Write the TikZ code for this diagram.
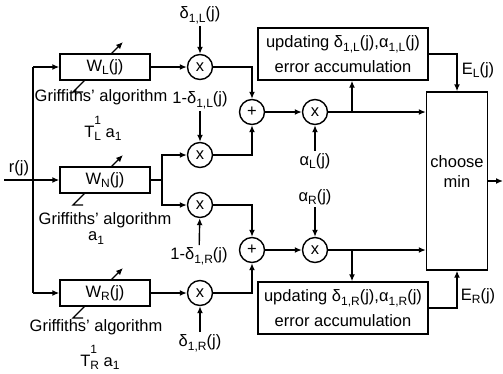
\documentclass[tikz,border=0pt]{standalone}
\usepackage{fontspec}
\setmainfont{Liberation Sans}
\usetikzlibrary{arrows.meta}
\newcommand{\lo}[1]{\raisebox{-0.45ex}{\fontsize{12}{12}\selectfont #1}}
\newcommand{\hilo}[2]{\makebox[0pt][l]{\raisebox{1.4ex}{\fontsize{12}{12}\selectfont #1}}\lo{#2}}
\tikzset{
  sig/.style={line width=1.4pt},
  arr/.style={sig,-{Latex[length=7pt,width=6pt]}},
  wbox/.style={draw,line width=1.4pt,minimum width=90pt,minimum height=26pt,inner sep=0pt},
  mult/.style={draw,circle,line width=1.4pt,minimum size=25pt,inner sep=0pt},
  upbox/.style={draw,line width=1.4pt,minimum width=170pt,minimum height=52pt,align=center,inner sep=0pt},
  lbl/.style={inner sep=2pt}
}

\begin{document}
\begin{tikzpicture}[x=1pt,y=-1pt,font=\fontsize{16.5}{20}\selectfont]
  \useasboundingbox (0,0) rectangle (503,373);
  % input and branching
  \coordinate (in) at (4,180);
  \node[lbl] (rj) at (19,168) {r(j)};
  \coordinate (splitup) at (33,67);
  \coordinate (split) at (33,180);
  \coordinate (splitdn) at (33,293);
  \coordinate (fork) at (162,180);
  % adaptive filters
  \node[wbox] (wl) at (105,67) {W\lo{L}(j)};
  \node[wbox] (wn) at (105,180) {W\lo{N}(j)};
  \node[wbox] (wr) at (105,293) {W\lo{R}(j)};
  \foreach \w in {wl,wn,wr}{
    \draw[sig] ([shift={(-22,25)}]\w.center) -- ++(-10,0) -- ([shift={(-20,13)}]\w.center);
    \draw[arr] ([shift={(6,-13)}]\w.center) -- ([shift={(18,-25)}]\w.center);
  }
  \node[lbl] (gl) at (101,97) {Griffiths' algorithm};
  \node[anchor=base] (tl) at (103,137) {T\hilo{1}{L} a\lo{1}};
  \node[lbl] (gn) at (105,220) {Griffiths' algorithm};
  \node[lbl] (an) at (96,238) {a\lo{1}};
  \node[lbl] (gr) at (96,327) {Griffiths' algorithm};
  \node[anchor=base] (tr) at (100,366) {T\hilo{1}{R} a\lo{1}};
  % weighting and sums
  \node[mult] (ml) at (200,67) {x};
  \node[mult] (mlc) at (200,155) {x};
  \node[mult] (mrc) at (200,205) {x};
  \node[mult] (mr) at (200,293) {x};
  \node[mult] (sl) at (252,112) {+};
  \node[mult] (sr) at (252,250) {+};
  \node[mult] (al) at (315,112) {x};
  \node[mult] (ar) at (315,250) {x};
  \node[lbl] (dl) at (200,15) {δ\lo{1,L}(j)};
  \node[lbl] (dlc) at (200,100) {1-δ\lo{1,L}(j)};
  \node[lbl] (drc) at (199,256) {1-δ\lo{1,R}(j)};
  \node[lbl] (dr) at (200,343) {δ\lo{1,R}(j)};
  \node[lbl] (alj) at (315,161) {α\lo{L}(j)};
  \node[lbl] (arj) at (315,197) {α\lo{R}(j)};
  % updating and decision
  \node[upbox] (ul) at (343,54) {updating δ\lo{1,L}(j),α\lo{1,L}(j)\\[5pt]error accumulation};
  \node[upbox] (ur) at (343,308) {updating δ\lo{1,R}(j),α\lo{1,R}(j)\\[5pt]error accumulation};
  \node[draw,line width=1.4pt,minimum width=61pt,minimum height=178pt,inner sep=0pt] (cm) at (457,181) {};
  \node[align=center,inner sep=0pt] (cmt) at ([yshift=9]cm.center) {choose\\min};
  \node[lbl] (el) at (478,70) {E\lo{L}(j)};
  \node[lbl] (er) at (478,296) {E\lo{R}(j)};
  \coordinate (tapl) at (352,112);
  \coordinate (tapr) at (352,250);
  \coordinate (out) at (503,181);

  \draw[arr] (in) -- (wn);
  \draw[sig] (splitup) -- (splitdn);
  \draw[arr] (splitup) -- (wl);
  \draw[arr] (splitdn) -- (wr);
  \draw[arr] (wl) -- (ml);
  \draw[arr] (wr) -- (mr);
  \draw[sig] (wn) -- (fork);
  \draw[arr] (fork) |- (mlc);
  \draw[arr] (fork) |- (mrc);
  \draw[arr] (dl) -- (ml);
  \draw[arr] (dlc) -- (mlc);
  \draw[arr] (drc) -- (mrc);
  \draw[arr] (dr) -- (mr);
  \draw[arr] (ml) -| (sl);
  \draw[arr] (mlc) -| (sl);
  \draw[arr] (mrc) -| (sr);
  \draw[arr] (mr) -| (sr);
  \draw[arr] (sl) -- (al);
  \draw[arr] (sr) -- (ar);
  \draw[arr] (alj) -- (al);
  \draw[arr] (arj) -- (ar);
  \draw[arr] (al) -- (al -| cm.west);
  \draw[arr] (ar) -- (ar -| cm.west);
  \draw[arr] (tapl) -- (tapl |- ul.south);
  \draw[arr] (tapr) -- (tapr |- ur.north);
  \draw[arr] (ul) -| (cm);
  \draw[arr] (ur) -| (cm);
  \draw[arr] (cm) -- (out);
\end{tikzpicture}
\end{document}
